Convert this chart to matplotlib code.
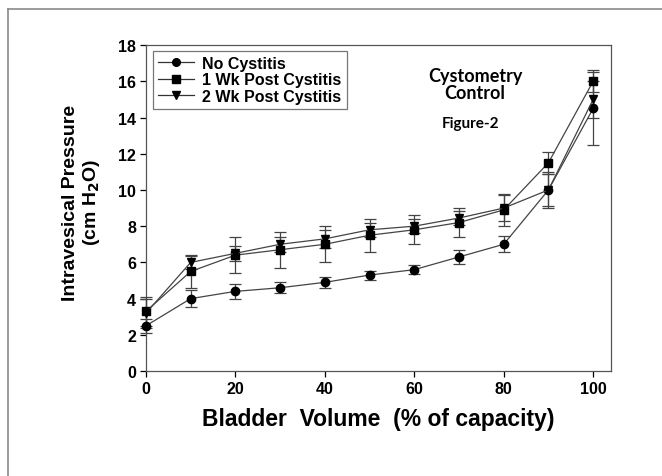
import matplotlib.pyplot as plt
from matplotlib.lines import Line2D

# Data
volume = [0, 10, 20, 30, 40, 50, 60, 70, 80, 90, 100]
no_cyst = [2.5, 4.0, 4.4, 4.6, 4.9, 5.3, 5.6, 6.3, 7.0, 10.0, 14.5]
no_cyst_err = [0.4, 0.45, 0.4, 0.3, 0.3, 0.25, 0.25, 0.4, 0.45, 1.0, 2.0]
wk1 = [3.3, 5.5, 6.4, 6.7, 7.0, 7.5, 7.8, 8.2, 8.9, 11.5, 16.0]
wk1_err = [0.8, 0.9, 1.0, 1.0, 1.0, 0.9, 0.8, 0.8, 0.9, 0.6, 0.6]
wk2 = [3.2, 6.0, 6.5, 7.0, 7.3, 7.8, 8.0, 8.45, 9.0, 10.0, 15.0]
wk2_err = [0.8, 0.35, 0.4, 0.4, 0.5, 0.4, 0.4, 0.4, 0.7, 0.9, 1.0]

labels = ["No Cystitis", "1 Wk Post Cystitis", "2 Wk Post Cystitis"]
markers = ['o', 's', 'v']

plt.rcParams['font.family'] = ['Liberation Sans', 'DejaVu Sans']

fig = plt.figure(figsize=(6.62, 4.77), dpi=100)
ax = fig.add_axes([0.2205, 0.22, 0.7025, 0.6834])

# outer frame lines of the original page
fig.add_artist(Line2D([0.012, 1.0], [0.979, 0.979], color='#8a8a8a', lw=1.2))
fig.add_artist(Line2D([0.012, 0.012], [0.0, 0.979], color='#8a8a8a', lw=1.2))

series = [(no_cyst, no_cyst_err), (wk1, wk1_err), (wk2, wk2_err)]
handles = []
for (vals, err), mk, lab in zip(series, markers, labels):
    ax.errorbar(volume, vals, yerr=err, fmt='-', marker=mk, color='#444444',
                mfc='black', mec='black', ms=6, lw=0.9, elinewidth=0.9,
                ecolor='#444444', capsize=4, capthick=0.9,
                clip_on=False, zorder=3)
    handles.append(Line2D([], [], color='#333333', lw=0.9, marker=mk,
                          mfc='black', mec='black', ms=5.5, label=lab))

ax.set_xlim(0, 104)
ax.set_ylim(0, 18)
ax.set_xticks([0, 20, 40, 60, 80, 100])
ax.set_yticks(range(0, 19, 2))
ax.tick_params(direction='out', length=4.5, width=0.9, pad=2.5, labelsize=11.5, colors='black')
for t in ax.get_xticklabels() + ax.get_yticklabels():
    t.set_fontweight('bold')
for s in ax.spines.values():
    s.set_color('#555555')
    s.set_linewidth(0.9)

ax.set_xlabel('Bladder  Volume  (% of capacity)', fontsize=16.5, fontweight='bold', labelpad=8)
ax.set_ylabel('Intravesical Pressure\n(cm H$_\\mathbf{2}$O)', fontsize=14, fontweight='bold',
              linespacing=1.1)
ax.yaxis.set_label_coords(-0.095, 0.52)

leg = ax.legend(handles=handles, loc='upper left', bbox_to_anchor=(0.015, 0.982),
                frameon=True, fancybox=False, edgecolor='#555555',
                prop={'weight': 'bold', 'size': 11.5}, handlelength=2.3,
                borderpad=0.3, labelspacing=0.1, handletextpad=0.5,
                borderaxespad=0)
leg.get_frame().set_linewidth(0.9)

ax.text(0.7075, 0.88, 'Cystometry\nControl', transform=ax.transAxes, ha='center', va='center',
        fontsize=13, fontweight='bold', family=['Lato', 'DejaVu Sans'], linespacing=1.0)
ax.text(0.697, 0.761, 'Figure-2', transform=ax.transAxes, ha='center', va='center',
        fontsize=11, fontweight='bold', family=['Lato', 'DejaVu Sans'])

fig.savefig('out.png', dpi=100)
